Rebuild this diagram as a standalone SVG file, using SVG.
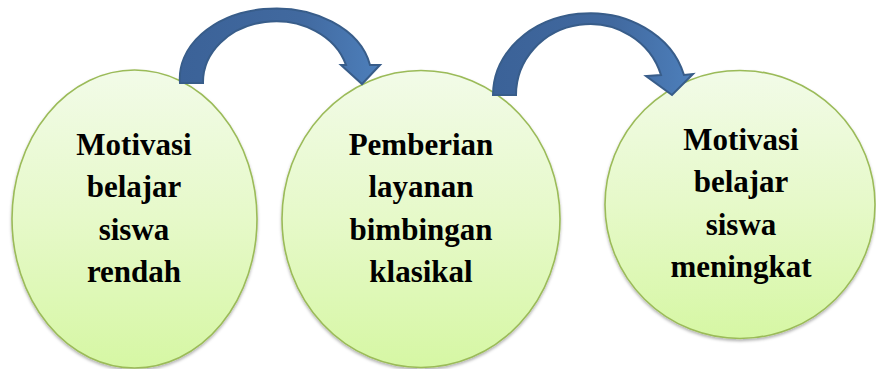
<svg xmlns="http://www.w3.org/2000/svg" width="876" height="369" viewBox="0 0 876 369">
<defs>
<linearGradient id="gFill" x1="0" y1="0" x2="0" y2="1">
<stop offset="0" stop-color="#f2fbe8"/>
<stop offset="0.5" stop-color="#e6f9c9"/>
<stop offset="1" stop-color="#d6f7a4"/>
</linearGradient>
<linearGradient id="aFill" x1="0" y1="0" x2="1" y2="0">
<stop offset="0" stop-color="#3b6298"/>
<stop offset="0.6" stop-color="#41699f"/>
<stop offset="1" stop-color="#4d7fbb"/>
</linearGradient>
<filter id="sh" x="-10%" y="-10%" width="120%" height="120%">
<feDropShadow dx="0" dy="2" stdDeviation="1.5" flood-color="#000" flood-opacity="0.3"/>
</filter>
</defs>
<style>
.node ellipse{fill:url(#gFill);stroke:#9bbb59;stroke-width:1.6;filter:url(#sh)}
.lbl{font-family:'Liberation Serif',serif;font-weight:700;font-size:31px;fill:#000;text-anchor:middle}
.arrow{fill:url(#aFill);stroke:#385d8a;stroke-width:2;stroke-linejoin:miter}
</style>
<g id="node1" class="node">
<ellipse cx="134.5" cy="219" rx="122.5" ry="149"/>
<text class="lbl" font-family="Liberation Serif" x="134" y="155">Motivasi</text>
<text class="lbl" font-family="Liberation Serif" x="134" y="197">belajar</text>
<text class="lbl" font-family="Liberation Serif" x="134" y="240">siswa</text>
<text class="lbl" font-family="Liberation Serif" x="134" y="282">rendah</text>
</g>
<g id="node2" class="node">
<ellipse cx="421" cy="219" rx="139" ry="148.5"/>
<text class="lbl" x="421" y="155">Pemberian</text>
<text class="lbl" x="421" y="197">layanan</text>
<text class="lbl" x="421" y="240">bimbingan</text>
<text class="lbl" x="421" y="282">klasikal</text>
</g>
<g id="node3" class="node">
<ellipse cx="740" cy="204.5" rx="135" ry="134"/>
<text class="lbl" x="741" y="150">Motivasi</text>
<text class="lbl" x="741" y="192">belajar</text>
<text class="lbl" x="741" y="235">siswa</text>
<text class="lbl" x="741" y="277">meningkat</text>
</g>
<g id="connectors">
<path class="arrow" d="M180,83 A96,70 0 0 1 370,65 L380,65 L362,84 L341,65 L346,65 A73,61 0 0 0 203,83 Z"/>
<path class="arrow" d="M493,95 A97,82 0 0 1 684,75 L693,74 L672,95 L646,76 L661,75 A74,71 0 0 0 516,95 Z"/>
</g>
</svg>
